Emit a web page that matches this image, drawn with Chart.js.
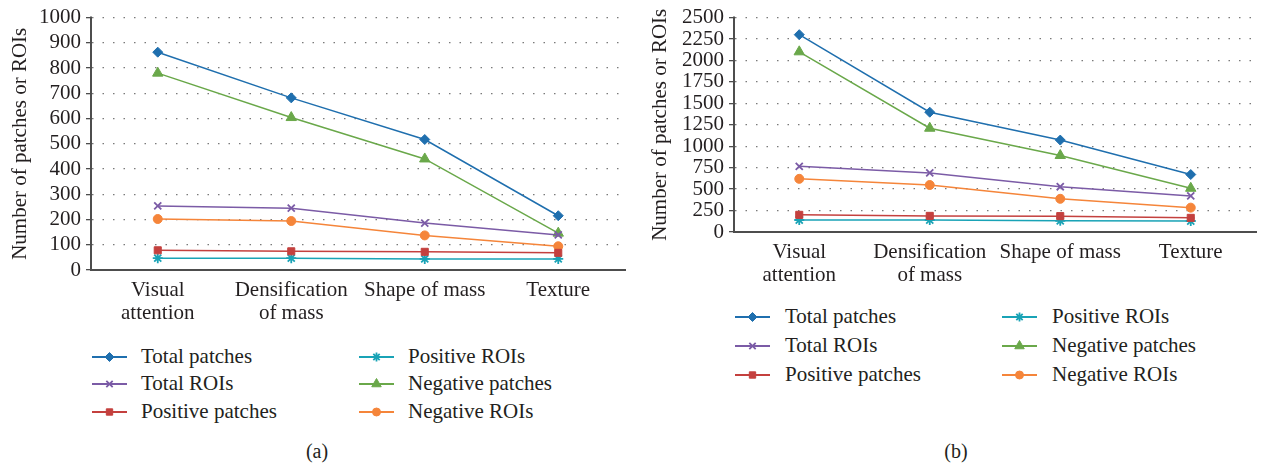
<!DOCTYPE html>
<html>
<head>
<meta charset="utf-8">
<script src="https://cdn.jsdelivr.net/npm/chart.js@4.4.1/dist/chart.umd.min.js"></script>
<style>
  body { margin: 0; background: #fff; width: 1263px; height: 466px; position: relative; overflow: hidden; }
  .panel { position: absolute; top: 0; }
  .leg { position: absolute; font-family: "Liberation Serif", serif; font-size: 21px; color: #231f20; white-space: nowrap; }
  .leg canvas { position: absolute; left: 0; top: 0; }
  .leg span { position: absolute; top: -2px; line-height: 20px; }
  .cap { position: absolute; font-family: "Liberation Serif", serif; font-size: 20px; color: #231f20; transform: translate(-50%, -50%); }
</style>
</head>
<body>
<div class="panel" style="left:0;width:632px;height:330px;"><canvas id="chartA"></canvas></div>
<div class="panel" style="left:640px;width:623px;height:292px;"><canvas id="chartB"></canvas></div>
<div id="legends"></div>
<div class="cap" style="left:317px;top:451px;">(a)</div>
<div class="cap" style="left:956px;top:451px;">(b)</div>
<script>
// categories and values
const categories = [['Visual', 'attention'], ['Densification', 'of mass'], 'Shape of mass', 'Texture'];
const seriesNames = ['Total patches', 'Total ROIs', 'Positive patches', 'Positive ROIs', 'Negative patches', 'Negative ROIs'];

// panel (a)
const totalPatchesA = [863, 682, 517, 215];
const totalRoisA = [254, 245, 186, 139];
const positivePatchesA = [78, 74, 72, 68];
const positiveRoisA = [47, 47, 44, 44];
const negativePatchesA = [780, 604, 440, 146];
const negativeRoisA = [202, 194, 137, 94];

// panel (b)
const totalPatchesB = [2301, 1397, 1072, 670];
const totalRoisB = [766, 689, 528, 421];
const positivePatchesB = [200, 188, 185, 165];
const positiveRoisB = [140, 140, 130, 128];
const negativePatchesB = [2101, 1210, 892, 510];
const negativeRoisB = [620, 548, 387, 284];

const colors = ['#1f6fae', '#7b5ba6', '#c4403e', '#19a3b6', '#6aa84a', '#f5853a'];
const markers = ['rectRot', 'crossRot', 'rect', 'star', 'triangle', 'circle'];
const radii = [5, 5, 5, 5, 6, 4.5];

const FONT = '"Liberation Serif", serif';
const TEXT = '#231f20';

function makeDatasets(seriesList) {
  return seriesList.map((vals, i) => ({
    label: seriesNames[i],
    data: vals,
    borderColor: colors[i],
    backgroundColor: colors[i],
    pointBackgroundColor: colors[i],
    pointBorderColor: colors[i],
    borderWidth: 1.5,
    pointStyle: markers[i],
    pointRadius: radii[i],
    pointBorderWidth: (markers[i] === 'crossRot' || markers[i] === 'star') ? 1.8 : 1,
    tension: 0,
    fill: false
  }));
}

function makeChart(id, seriesList, max, step, yWidth, padTop, padRight) {
  const ctx = document.getElementById(id);
  return new Chart(ctx.getContext('2d'), {
    type: 'line',
    data: { labels: categories, datasets: makeDatasets(seriesList) },
    options: {
      responsive: true,
      maintainAspectRatio: false,
      animation: false,
      layout: { padding: { top: padTop, right: padRight, left: 0, bottom: 0 } },
      plugins: { legend: { display: false }, tooltip: { enabled: false } },
      scales: {
        x: {
          offset: true,
          grid: { display: false, drawTicks: false },
          border: { color: '#4d4d4d', width: 2 },
          ticks: { color: TEXT, font: { family: FONT, size: 21, lineHeight: 1.1 }, padding: 9, maxRotation: 0, autoSkip: false },
          afterFit: (scale) => { scale.height = 60; }
        },
        y: {
          min: 0, max: max,
          ticks: { stepSize: step, autoSkip: false, color: TEXT, font: { family: FONT, size: 21 }, padding: 5,
                   callback: (v) => String(v) },
          grid: {
            color: (c) => c.tick && c.tick.value === 0 ? 'rgba(0,0,0,0)' : '#7a7a7a',
            lineWidth: 1.3,
            tickColor: '#4d4d4d',
            tickLength: 5,
            tickBorderDash: [],
            drawTicks: true
          },
          border: { color: '#4d4d4d', width: 2, dash: [1.5, 9] },
          title: { display: true, text: 'Number of patches or ROIs', color: TEXT, font: { family: FONT, size: 21 }, padding: { top: 8, bottom: 0 } },
          afterFit: (scale) => { scale.width = yWidth; }
        }
      }
    },
    plugins: [{
      id: 'solidAxis',
      // grid dash also reaches the axis line; redraw the axis line solid
      afterDraw(chart) {
        const a = chart.chartArea, c = chart.ctx;
        c.save();
        c.strokeStyle = '#4d4d4d';
        c.lineWidth = 2;
        c.setLineDash([]);
        c.beginPath();
        c.moveTo(a.left, a.top - 1);
        c.lineTo(a.left, a.bottom);
        c.stroke();
        c.restore();
      }
    }]
  });
}

const chartA = makeChart('chartA',
  [totalPatchesA, totalRoisA, positivePatchesA, positiveRoisA, negativePatchesA, negativeRoisA],
  1000, 100, 91, 14, 7);
const chartB = makeChart('chartB',
  [totalPatchesB, totalRoisB, positivePatchesB, positiveRoisB, negativePatchesB, negativeRoisB],
  2500, 250, 94, 14, 0);

// legends: two columns, three rows, column-major
function buildLegend(x1, x2, ys, symW, textGap) {
  const root = document.getElementById('legends');
  seriesNames.forEach((name, i) => {
    const col = i < 3 ? 0 : 1;
    const row = i % 3;
    const left = col === 0 ? x1 : x2;
    const div = document.createElement('div');
    div.className = 'leg';
    div.style.left = left + 'px';
    div.style.top = (ys[row] - 9) + 'px';
    const cv = document.createElement('canvas');
    cv.width = symW; cv.height = 18;
    const c = cv.getContext('2d');
    c.strokeStyle = colors[i];
    c.lineWidth = 2;
    c.beginPath(); c.moveTo(0, 9); c.lineTo(symW, 9); c.stroke();
    c.fillStyle = colors[i];
    c.lineWidth = (markers[i] === 'crossRot' || markers[i] === 'star') ? 1.8 : 1;
    Chart.helpers.drawPoint(c, { pointStyle: markers[i], radius: radii[i] - 0.5, borderWidth: c.lineWidth, rotation: 0 }, symW / 2, 9);
    div.appendChild(cv);
    const sp = document.createElement('span');
    sp.textContent = name;
    sp.style.left = (symW + textGap) + 'px';
    div.appendChild(sp);
    root.appendChild(div);
  });
}
buildLegend(92, 359, [357, 384, 412], 35, 14);
buildLegend(735, 1002, [317, 346, 375], 35, 15);
</script>
</body>
</html>
